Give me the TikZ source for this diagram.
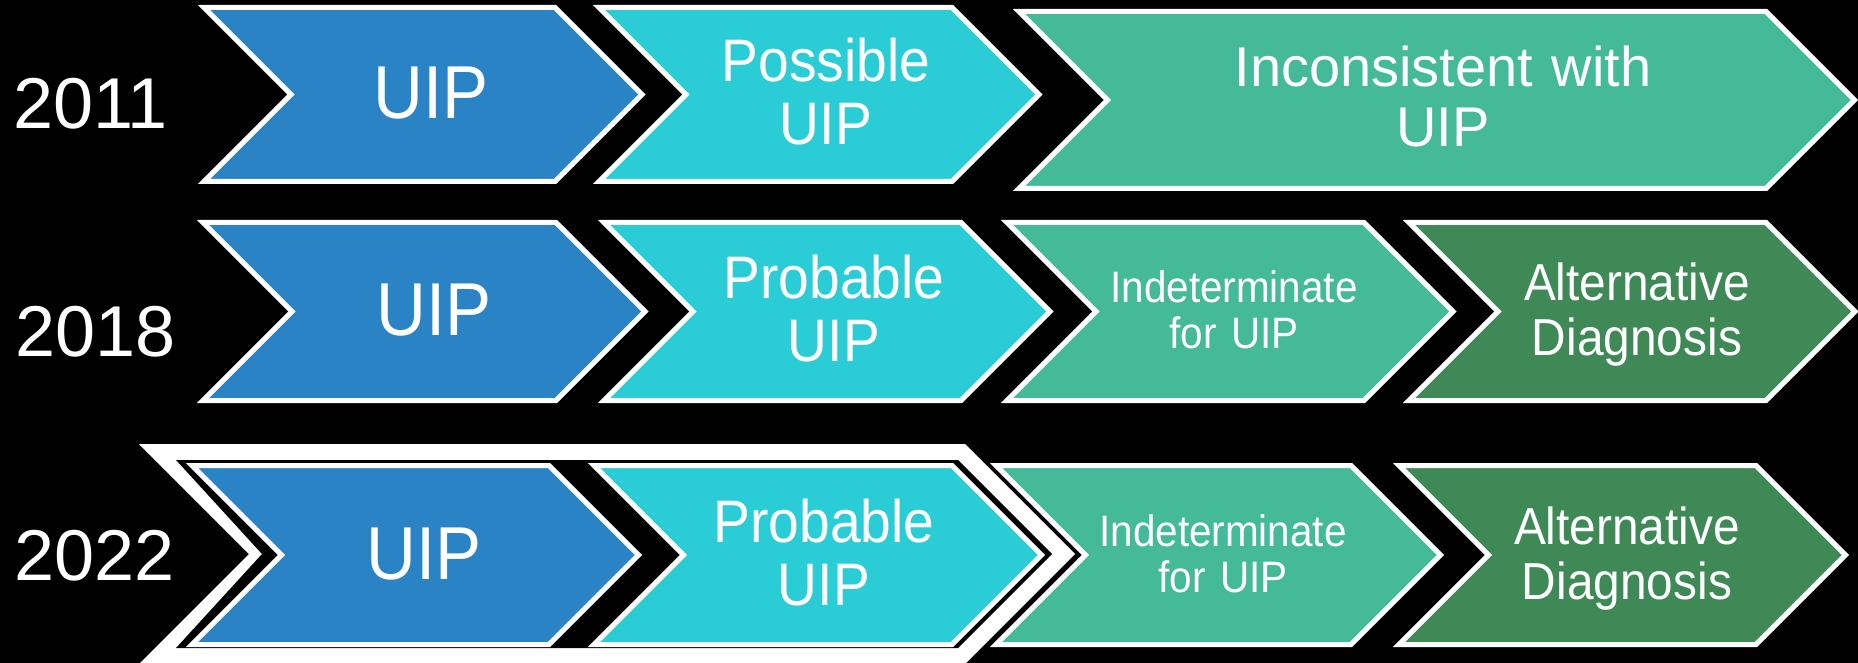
\documentclass[tikz,border=0pt]{standalone}
\usepackage{fontspec}
\setmainfont{Liberation Sans}
\newfontfamily\condsans{Liberation Sans}[FakeStretch=0.92]
\definecolor{stepblue}{RGB}{41,131,197}
\definecolor{stepcyan}{RGB}{42,205,214}
\definecolor{stepteal}{RGB}{68,186,153}
\definecolor{stepgreen}{RGB}{63,137,87}
% chevron: fill, left x, top-right corner x, top y, bottom y
\newcommand\chev[5]{%
  \pgfmathsetmacro\chevh{(#5-#4)/2}%
  \pgfmathsetmacro\chevm{(#5+#4)/2}%
  \draw[chevbox,fill=#1] (#2,#4) -- (#3,#4) -- ({#3+\chevh},\chevm) -- (#3,#5)
    -- (#2,#5) -- ({#2+\chevh},\chevm) -- cycle;}
\begin{document}
\begin{tikzpicture}[x=1pt,y=-1pt,
  chevbox/.style={draw=white,line width=5pt,line join=miter},
  yearlabel/.style={text=white,inner sep=0pt,anchor=base west,
    font=\fontsize{72}{72}\selectfont},
  stagelabel/.style 2 args={text=white,inner sep=0pt,anchor=base,
    align=center,text width=440pt,font=\condsans\fontsize{#1}{#2}\selectfont},
  widelabel/.style 2 args={text=white,inner sep=0pt,anchor=base,
    align=center,text width=600pt,font=\fontsize{#1}{#2}\selectfont}]
\fill[black] (0,0) rectangle (1858,663);
\useasboundingbox (0,0) rectangle (1858,663);

% 2011
\chev{stepblue}{204}{555}{7.5}{181.5}
\chev{stepcyan}{599}{952}{7.5}{181.5}
\chev{stepteal}{1019}{1766}{11.5}{188.5}

% 2018
\chev{stepblue}{203}{556}{222.5}{400.5}
\chev{stepcyan}{604}{961}{222.5}{400.5}
\chev{stepteal}{1007}{1364}{222.5}{400.5}
\chev{stepgreen}{1409}{1766}{222.5}{400.5}

% 2022: highlighted group behind the first two steps
\fill[white] (139,444) -- (965,444) -- (1075,554) -- (965,664) -- (139,664)
  -- (249,554) -- cycle;
\fill[black] (176,460) -- (958,460) -- (1052,554) -- (958,648) -- (176,648)
  -- (262,554) -- cycle;
\chev{stepblue}{192}{549}{465.5}{644.5}
\chev{stepcyan}{594}{952}{465.5}{644.5}
\chev{stepteal}{996}{1351}{465.5}{644.5}
\chev{stepgreen}{1399}{1756}{465.5}{644.5}

% year labels
\node[yearlabel] (y2011) at (13,129) {2011};
\node[yearlabel] (y2018) at (15,356) {2018};
\node[yearlabel] (y2022) at (14,580) {2022};

% 2011 labels
\node[stagelabel={75}{75}] (a1) at (431,119) {UIP};
\node[stagelabel={60}{63}] (a2) at (826,82) {Possible\\UIP};
\node[widelabel={56}{60}] (a3) at (1443,87) {Inconsistent with\\UIP};

% 2018 labels
\node[stagelabel={75}{75}] (b1) at (434,335) {UIP};
\node[stagelabel={60}{63}] (b2) at (834,298) {Probable\\UIP};
\node[stagelabel={44}{46}] (b3) at (1234,302) {Indeterminate\\for UIP};
\node[stagelabel={52}{55}] (b4) at (1637,300) {Alternative\\Diagnosis};

% 2022 labels
\node[stagelabel={75}{75}] (c1) at (424,579) {UIP};
\node[stagelabel={60}{63}] (c2) at (824,542) {Probable\\UIP};
\node[stagelabel={44}{46}] (c3) at (1223,546) {Indeterminate\\for UIP};
\node[stagelabel={52}{55}] (c4) at (1627,544) {Alternative\\Diagnosis};
\end{tikzpicture}
\end{document}
